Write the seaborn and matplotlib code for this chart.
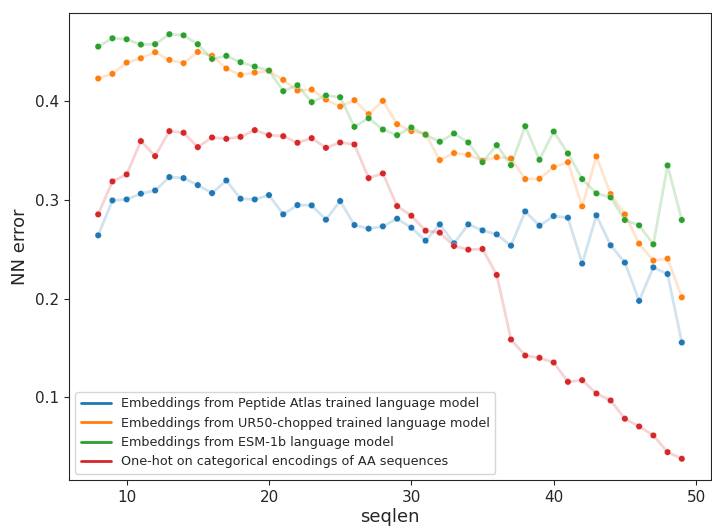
import numpy as np
import pandas as pd
import seaborn as sns
import matplotlib.pyplot as plt

seqlen = list(range(8, 50))

peptide_atlas = [0.2640, 0.2993, 0.3003, 0.3061, 0.3094, 0.3229, 0.3219, 0.3148, 0.3067, 0.3195,
                 0.3010, 0.3003, 0.3047, 0.2852, 0.2946, 0.2943, 0.2798, 0.2987, 0.2744, 0.2707,
                 0.2731, 0.2808, 0.2717, 0.2586, 0.2751, 0.2559, 0.2751, 0.2690, 0.2650, 0.2535,
                 0.2882, 0.2737, 0.2835, 0.2818, 0.2354, 0.2842, 0.2539, 0.2364, 0.1977, 0.2316,
                 0.2249, 0.1556]
ur50_chopped = [0.4226, 0.4273, 0.4387, 0.4431, 0.4492, 0.4414, 0.4381, 0.4495, 0.4455, 0.4327,
                0.4263, 0.4286, 0.4303, 0.4212, 0.4104, 0.4114, 0.4013, 0.3942, 0.4007, 0.3865,
                0.4000, 0.3764, 0.3694, 0.3663, 0.3401, 0.3472, 0.3455, 0.3394, 0.3431, 0.3417,
                0.3209, 0.3212, 0.3330, 0.3380, 0.2933, 0.3438, 0.3057, 0.2852, 0.2556, 0.2384,
                0.2404, 0.2013]
esm1b = [0.4549, 0.4633, 0.4623, 0.4569, 0.4573, 0.4674, 0.4663, 0.4573, 0.4424, 0.4455,
         0.4391, 0.4347, 0.4306, 0.4098, 0.4158, 0.3987, 0.4054, 0.4037, 0.3737, 0.3825,
         0.3710, 0.3653, 0.3731, 0.3657, 0.3586, 0.3670, 0.3579, 0.3380, 0.3552, 0.3350,
         0.3744, 0.3404, 0.3690, 0.3468, 0.3209, 0.3064, 0.3024, 0.2795, 0.2741, 0.2549,
         0.3347, 0.2795]
one_hot = [0.2852, 0.3185, 0.3256, 0.3593, 0.3441, 0.3694, 0.3677, 0.3532, 0.3630, 0.3616,
           0.3636, 0.3704, 0.3653, 0.3643, 0.3576, 0.3623, 0.3525, 0.3579, 0.3559, 0.3219,
           0.3266, 0.2936, 0.2838, 0.2687, 0.2667, 0.2532, 0.2495, 0.2502, 0.2239, 0.1586,
           0.1424, 0.1401, 0.1354, 0.1158, 0.1175, 0.1040, 0.0970, 0.0785, 0.0707, 0.0616,
           0.0447, 0.0380]

labels = ["Embeddings from Peptide Atlas trained language model",
          "Embeddings from UR50-chopped trained language model",
          "Embeddings from ESM-1b language model",
          "One-hot on categorical encodings of AA sequences"]

frames = []
for label, vals in zip(labels, [peptide_atlas, ur50_chopped, esm1b, one_hot]):
    frames.append(pd.DataFrame({"seqlen": seqlen, "NN error": vals, "method": label}))
df = pd.concat(frames, ignore_index=True)

sns.set_style("ticks")
fig = plt.figure(figsize=(7.12, 5.29), dpi=100)
ax = fig.add_axes([69 / 712, 49 / 529, 642 / 712, 467 / 529])

sns.lineplot(data=df, x="seqlen", y="NN error", hue="method", palette="tab10",
             alpha=0.2, linewidth=2, ax=ax)
sns.scatterplot(data=df, x="seqlen", y="NN error", hue="method", palette="tab10",
                s=22, linewidth=0.3, edgecolor="white", legend=False, ax=ax)

leg = ax.legend(loc="lower left", fontsize=9.2, handlelength=2.4)
for h in leg.legend_handles:
    h.set_alpha(1)

ax.set_xlabel("seqlen", fontsize=13, labelpad=2)
ax.set_ylabel("NN error", fontsize=13)
ax.tick_params(labelsize=11, length=3.5, width=0.8)

fig.savefig("out.png", dpi=100)
